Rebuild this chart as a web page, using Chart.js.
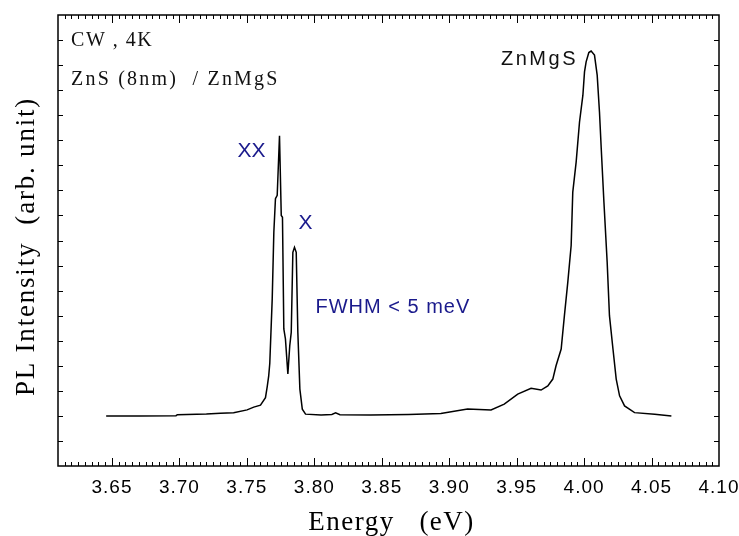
<!DOCTYPE html>
<html>
<head>
<meta charset="utf-8">
<script src="https://cdn.jsdelivr.net/npm/chart.js@4.4.1/dist/chart.umd.min.js"></script>
<style>
  body { margin: 0; background: #fff; }
  #wrap { width: 739px; height: 536px; }
</style>
</head>
<body>
<div id="wrap"><canvas id="plSpectrum" width="739" height="536"></canvas></div>
<script>
// PL spectrum, ZnS (8nm) / ZnMgS at 4K

// photon energy (eV)
const energy = [
    3.6457, 3.6700, 3.6975, 3.6985, 3.7200, 3.7304, 3.7402, 3.7502, 3.7551, 3.7601,
    3.7638, 3.7651, 3.7662, 3.7670, 3.7688, 3.7700, 3.7712, 3.7725, 3.7742, 3.7755,
    3.7764, 3.7774, 3.7786, 3.7804, 3.7818, 3.7829, 3.7841, 3.7853, 3.7866, 3.7878,
    3.7893, 3.7911, 3.7935, 3.8050, 3.8130, 3.8158, 3.8190, 3.8418, 3.8700, 3.8938,
    3.9136, 3.9310, 3.9408, 3.9508, 3.9607, 3.9681, 3.9731, 3.9768, 3.9792, 3.9830,
    3.9854, 3.9879, 3.9904, 3.9916, 3.9941, 3.9966, 3.9991, 4.0003, 4.0015, 4.0035,
    4.0052, 4.0077, 4.0097, 4.0114, 4.0127, 4.0147, 4.0171, 4.0188, 4.0214, 4.0238,
    4.0263, 4.0300, 4.0374, 4.0523, 4.0647
];

// PL intensity (arb. unit)
const intensity = [
    0.00, 0.00, 0.01, 0.05, 0.08, 0.11, 0.13, 0.24, 0.35, 0.43,
    0.73, 1.17, 1.60, 2.10, 4.67, 7.33, 8.67, 8.80, 11.18, 8.00,
    7.93, 3.47, 3.07, 1.67, 2.80, 3.33, 6.53, 6.73, 6.53, 3.33,
    1.07, 0.27, 0.07, 0.04, 0.06, 0.12, 0.05, 0.04, 0.06, 0.10,
    0.27, 0.24, 0.47, 0.87, 1.10, 1.03, 1.20, 1.47, 2.00, 2.67,
    4.00, 5.33, 6.80, 8.93, 10.13, 11.73, 12.80, 13.73, 14.13, 14.50,
    14.56, 14.40, 13.60, 12.13, 10.67, 8.53, 6.13, 4.00, 2.67, 1.47,
    0.80, 0.40, 0.13, 0.07, 0.00
];

// tick labels on the energy axis
const energyTicks = [3.65, 3.70, 3.75, 3.80, 3.85, 3.90, 3.95, 4.00, 4.05, 4.10];

// axis titles
const xTitle = 'Energy   (eV)';
const yTitle = 'PL Intensity  (arb. unit)';

// text inside the frame, anchored in data units
const notes = [
    { text: 'CW , 4K', e: 3.6197, i: 14.75, font: '20px "Liberation Serif"', color: '#111', gap: '1.5px' },
    { text: 'ZnS (8nm)  / ZnMgS', e: 3.6197, i: 13.19, font: '20px "Liberation Serif"', color: '#111', gap: '2.2px' },
    { text: 'XX', e: 3.743, i: 10.34, font: '21px "Liberation Sans"', color: '#1a1a8c', gap: '0px' },
    { text: 'X', e: 3.7883, i: 7.47, font: '21px "Liberation Sans"', color: '#1a1a8c', gap: '0px' },
    { text: 'FWHM < 5 meV', e: 3.8009, i: 4.11, font: '20px "Liberation Sans"', color: '#1a1a8c', gap: '1px' },
    { text: 'ZnMgS', e: 3.9384, i: 14.0, font: '20px "Liberation Sans"', color: '#111', gap: '2.5px' }
];

// frame with inward ticks on all four sides, titles and notes
const frameTicks = {
    id: 'frameTicks',
    beforeDraw(chart) {
        // tick labels are a little wider spaced
        chart.ctx.letterSpacing = '1px';
    },
    afterDraw(chart) {
        const ctx = chart.ctx;
        const a = chart.chartArea;
        const xs = chart.scales.x;
        const ys = chart.scales.y;
        ctx.save();
        ctx.strokeStyle = '#000';
        ctx.lineWidth = 1.5;
        ctx.strokeRect(a.left, a.top, a.right - a.left, a.bottom - a.top);
        ctx.lineWidth = 1;
        ctx.beginPath();
        // minor steps of 0.005 eV, every tenth one is major
        for (let k = 722; k <= 820; k++) {
            const px = Math.round(xs.getPixelForValue(k * 0.005)) + 0.5;
            if (px < a.left + 1 || px > a.right - 1) continue;
            const len = k % 10 === 0 ? 8 : 4;
            ctx.moveTo(px, a.bottom);
            ctx.lineTo(px, a.bottom - len);
            ctx.moveTo(px, a.top);
            ctx.lineTo(px, a.top + len);
        }
        for (let v = ys.min + 1; v < ys.max; v++) {
            const py = Math.round(ys.getPixelForValue(v)) + 0.5;
            ctx.moveTo(a.left, py);
            ctx.lineTo(a.left + 5, py);
            ctx.moveTo(a.right, py);
            ctx.lineTo(a.right - 5, py);
        }
        ctx.stroke();

        ctx.fillStyle = '#000';
        ctx.font = '27px "Liberation Serif"';
        ctx.letterSpacing = '1.5px';
        ctx.textAlign = 'center';
        ctx.textBaseline = 'alphabetic';
        ctx.fillText(xTitle, (a.left + a.right) / 2 + 3, a.bottom + 64);

        ctx.save();
        ctx.translate(34, (a.top + a.bottom) / 2 + 6);
        ctx.rotate(-Math.PI / 2);
        ctx.letterSpacing = '1.8px';
        ctx.fillText(yTitle, 0, 0);
        ctx.restore();

        ctx.textAlign = 'left';
        notes.forEach(n => {
            ctx.font = n.font;
            ctx.fillStyle = n.color;
            ctx.letterSpacing = n.gap;
            ctx.fillText(n.text, xs.getPixelForValue(n.e), ys.getPixelForValue(n.i));
        });
        ctx.restore();
        ctx.letterSpacing = '0px';
    }
};

const ctxPL = document.getElementById('plSpectrum');
const plChart = new Chart(ctxPL, {
    type: 'line',
    data: {
        datasets: [{
            data: energy.map((e, idx) => ({ x: e, y: intensity[idx] })),
            borderColor: '#000',
            borderWidth: 1.5,
            pointRadius: 0,
            tension: 0,
            fill: false
        }]
    },
    options: {
        responsive: false,
        animation: false,
        events: [],
        layout: {
            padding: { top: 15, right: 20, left: 0, bottom: 0 }
        },
        plugins: {
            legend: { display: false },
            tooltip: { enabled: false }
        },
        scales: {
            x: {
                type: 'linear',
                min: 3.61,
                max: 4.10,
                grid: { display: false, drawTicks: false },
                border: { display: false },
                afterBuildTicks: (scale) => {
                    scale.ticks = energyTicks.map(v => ({ value: v }));
                },
                afterFit: (scale) => {
                    scale.height = 70;
                    scale.paddingLeft = 0;
                    scale.paddingRight = 0;
                },
                ticks: {
                    color: '#000',
                    padding: 10,
                    maxRotation: 0,
                    autoSkip: false,
                    font: { family: '"Liberation Sans"', size: 19 },
                    callback: (v) => Number(v).toFixed(2)
                },
                title: { display: false }
            },
            y: {
                min: -2,
                max: 16,
                grid: { display: false, drawTicks: false },
                border: { display: false },
                ticks: { display: false },
                afterFit: (scale) => { scale.width = 58; },
                title: { display: false }
            }
        }
    },
    plugins: [frameTicks]
});
</script>
</body>
</html>
